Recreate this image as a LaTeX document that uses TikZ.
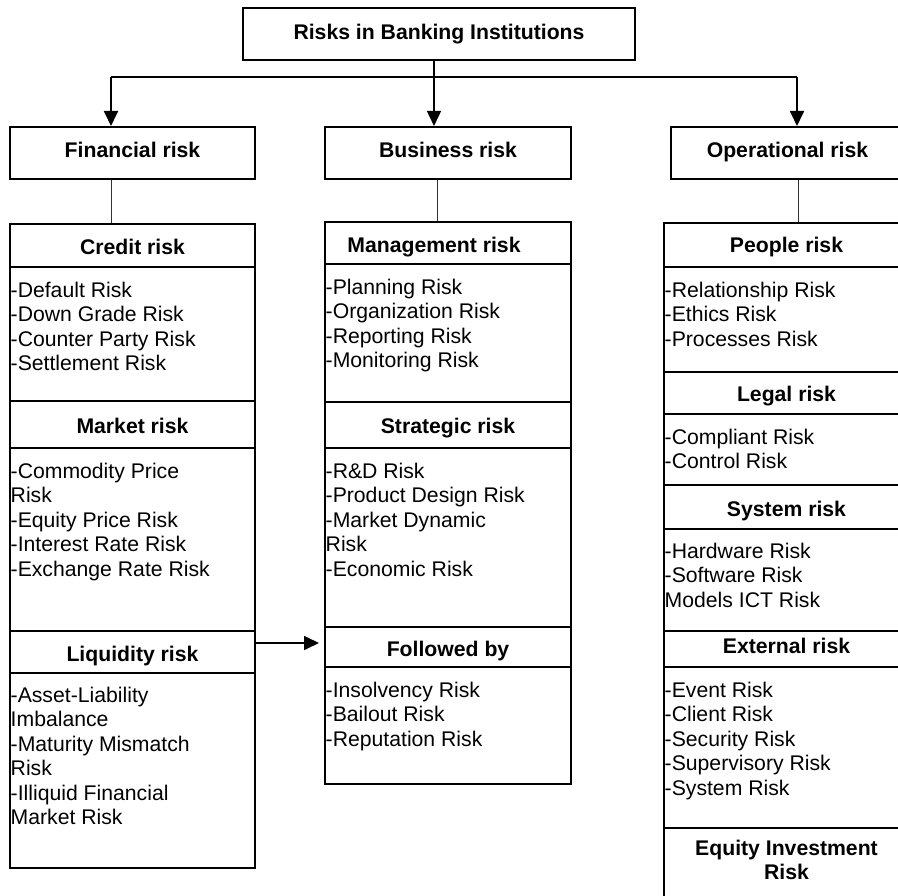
\documentclass[tikz,border=0pt]{standalone}
\usepackage{fontspec}
\setmainfont{Liberation Sans}
\usetikzlibrary{arrows.meta}
\newcommand{\fsz}{\fontsize{21.2pt}{24.5pt}\selectfont}
\tikzset{
  box/.style={draw, line width=2pt, rectangle, inner sep=0pt, anchor=north west},
  hd/.style={box, font=\fsz\bfseries, text depth=0pt, text height=#1},
  txt/.style={anchor=north west, inner sep=0pt, align=left, font=\fsz, xshift=1.5pt},
  link/.style={line width=1.8pt},
  arr/.style={line width=1.8pt, -{Triangle[length=15pt,width=14pt]}},
  thinlink/.style={line width=1pt, black!80},
}
\begin{document}
\begin{tikzpicture}[x=1pt,y=1pt]
\useasboundingbox (0,0) rectangle (898,-896);
\clip (0,0) rectangle (898,-896);
% top level
\node[hd=12pt, minimum width=392pt, minimum height=52pt] (title) at (242,-7) {Risks in Banking Institutions};
\node[hd=10pt, minimum width=245pt, minimum height=52pt] (fin) at (9,-126) {Financial risk};
\node[hd=10pt, minimum width=246pt, minimum height=52pt] (bus) at (324,-126) {Business risk};
\node[hd=10pt, minimum width=233pt, minimum height=52pt] (op) at (670,-126) {Operational risk};
% left column
\node[hd=19pt, minimum width=245pt, minimum height=43pt] (credH) at (9,-223) {Credit risk};
\node[box, minimum width=245pt, minimum height=134pt] (credB) at (9,-266) {};
\node[hd=17pt, minimum width=245pt, minimum height=47pt] (markH) at (9,-400) {Market risk};
\node[box, minimum width=245pt, minimum height=183pt] (markB) at (9,-447) {};
\node[hd=18pt, minimum width=245pt, minimum height=42pt] (liqH) at (9,-630) {Liquidity risk};
\node[box, minimum width=245pt, minimum height=195pt] (liqB) at (9,-672) {};
% middle column
\node[hd=20pt, minimum width=246pt, minimum height=42pt] (manH) at (324,-221) {Management risk\hspace*{28pt}};
\node[box, minimum width=246pt, minimum height=138pt] (manB) at (324,-263) {};
\node[hd=16pt, minimum width=246pt, minimum height=46pt] (strH) at (324,-401) {Strategic risk};
\node[box, minimum width=246pt, minimum height=179pt] (strB) at (324,-447) {};
\node[hd=18pt, minimum width=246pt, minimum height=40pt] (folH) at (324,-626) {Followed by};
\node[box, minimum width=246pt, minimum height=117pt] (folB) at (324,-666) {};
% right column
\node[hd=16pt, minimum width=245pt, minimum height=44pt] (peoH) at (663,-222) {People risk};
\node[box, minimum width=245pt, minimum height=105pt] (peoB) at (663,-266) {};
\node[hd=18pt, minimum width=245pt, minimum height=42pt] (legH) at (663,-371) {Legal risk};
\node[box, minimum width=245pt, minimum height=71pt] (legB) at (663,-413) {};
\node[hd=18pt, minimum width=245pt, minimum height=44pt] (sysH) at (663,-484) {System risk};
\node[box, minimum width=245pt, minimum height=102pt] (sysB) at (663,-528) {};
\node[hd=8pt, minimum width=245pt, minimum height=36pt] (extH) at (663,-630) {External risk};
\node[box, minimum width=245pt, minimum height=161pt] (extB) at (663,-666) {};
\node[box, minimum width=245pt, minimum height=90pt] (eqB) at (663,-827) {};
\node[anchor=north, inner sep=0pt, align=center, font=\fsz\bfseries] (eqT) at (eqB.north) {\rule{0pt}{28pt}Equity Investment\\Risk};
% body texts
\node[txt] (credT) at (credB.north west) {\rule{0pt}{31pt}-Default Risk\\-Down Grade Risk\\-Counter Party Risk\\-Settlement Risk};
\node[txt] (markT) at (markB.north west) {\rule{0pt}{31pt}-Commodity Price\\Risk\\-Equity Price Risk\\-Interest Rate Risk\\-Exchange Rate Risk};
\node[txt] (liqT) at (liqB.north west) {\rule{0pt}{30pt}-Asset-Liability\\Imbalance\\-Maturity Mismatch\\Risk\\-Illiquid Financial\\Market Risk};
\node[txt] (manT) at (manB.north west) {\rule{0pt}{31pt}-Planning Risk\\-Organization Risk\\-Reporting Risk\\-Monitoring Risk};
\node[txt] (strT) at (strB.north west) {\rule{0pt}{31pt}-R\&D Risk\\-Product Design Risk\\-Market Dynamic\\Risk\\-Economic Risk};
\node[txt] (folT) at (folB.north west) {\rule{0pt}{31pt}-Insolvency Risk\\-Bailout Risk\\-Reputation Risk};
\node[txt] (peoT) at (peoB.north west) {\rule{0pt}{31pt}-Relationship Risk\\-Ethics Risk\\-Processes Risk};
\node[txt] (legT) at (legB.north west) {\rule{0pt}{31pt}-Compliant Risk\\-Control Risk};
\node[txt] (sysT) at (sysB.north west) {\rule{0pt}{30pt}-Hardware Risk\\-Software Risk\\Models ICT Risk};
\node[txt] (extT) at (extB.north west) {\rule{0pt}{31pt}-Event Risk\\-Client Risk\\-Security Risk\\-Supervisory Risk\\-System Risk};
% connectors
\coordinate (jL) at (111,-77);
\coordinate (jM) at (434,-77);
\coordinate (jR) at (797,-77);
\coordinate (cM) at (437,-200);
\coordinate (cR) at (798,-200);
\draw[link] (jL) -- (jR);
\draw[arr] (jL) -- (jL |- fin.north);
\draw[arr, line width=1.4pt] (jM |- title.south) -- (jM |- bus.north);
\draw[arr] (jR) -- (jR |- op.north);
\draw[thinlink] (jL |- fin.south) -- (jL |- credH.north);
\draw[thinlink] (cM |- bus.south) -- (cM |- manH.north);
\draw[thinlink] (cR |- op.south) -- (cR |- peoH.north);
\coordinate (aY) at (0,-643);
\draw[arr, shorten >=5pt] (liqH.east |- aY) -- (folH.west |- aY);
\end{tikzpicture}
\end{document}
